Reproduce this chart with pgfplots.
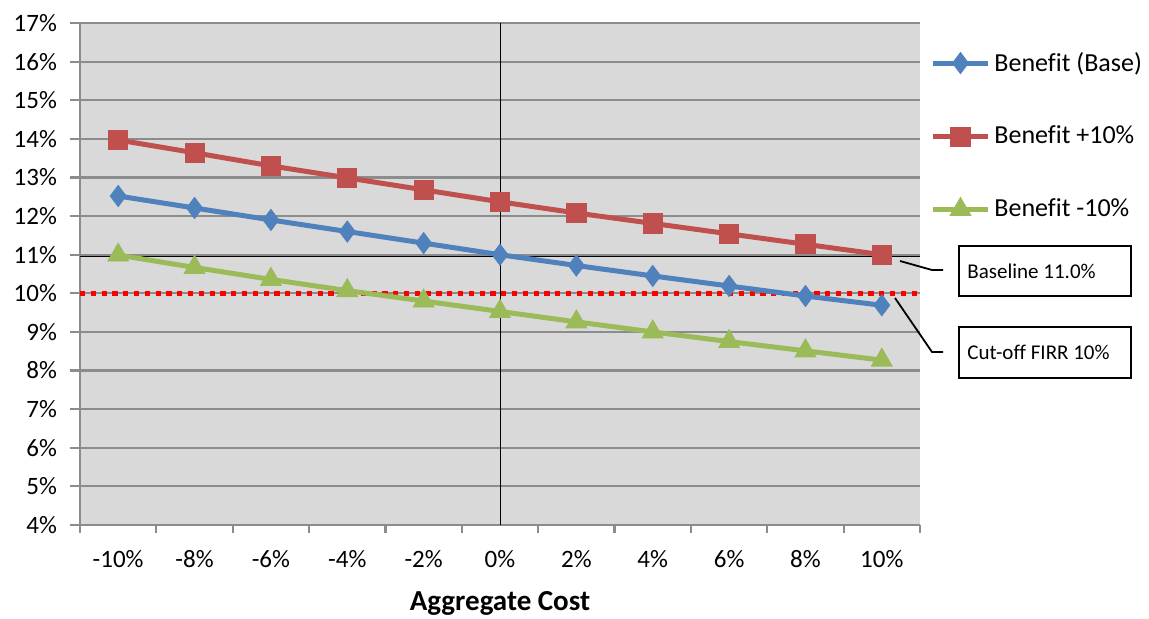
\documentclass[border=0pt]{standalone}
\usepackage{pgfplots}
\pgfplotsset{compat=1.18}
\usepackage{fontspec}
\setmainfont[Ligatures={NoCommon}]{Carlito}
\definecolor{sbBlue}{HTML}{4F81BD}
\definecolor{sbRed}{HTML}{C0504D}
\definecolor{sbGreen}{HTML}{9BBB59}
\definecolor{plotbg}{HTML}{D9D9D9}
\definecolor{gridgray}{HTML}{8C8C8C}

% FIRR sensitivity: rows are cost changes -10% ... +10% (index 0..10)
\pgfplotstableread{
idx base plus minus
0  12.52 13.97 10.99
1  12.21 13.64 10.67
2  11.90 13.30 10.36
3  11.60 12.99 10.07
4  11.30 12.68  9.80
5  11.00 12.37  9.53
6  10.72 12.08  9.26
7  10.45 11.81  9.00
8  10.19 11.54  8.75
9   9.93 11.27  8.51
10  9.69 11.00  8.27
}\firr

\begin{document}
\begin{tikzpicture}
\path[use as bounding box] (-40pt,-46.5pt) rectangle (534.5pt,262.5pt);
\begin{axis}[
  at={(0pt,0pt)}, anchor=south west,
  scale only axis, width=420pt, height=251pt,
  xmin=-0.5, xmax=10.5, ymin=4, ymax=17,
  axis x line*=bottom, axis y line*=left,
  axis line style={gridgray, line width=1.1pt},
  axis background/.style={fill=plotbg},
  ytick={4,...,17},
  yticklabel={\pgfmathprintnumber{\tick}\%},
  xtick={0,...,10},
  xticklabels={-10\%,-8\%,-6\%,-4\%,-2\%,0\%,2\%,4\%,6\%,8\%,10\%},
  minor xtick={-0.5,0.5,...,10.5},
  tick align=outside,
  major tick length=5pt, minor tick length=4pt,
  major x tick style={draw=none},
  minor x tick style={gridgray, line width=1.1pt},
  major y tick style={gridgray, line width=1.1pt},
  ymajorgrids,
  major grid style={gridgray, line width=1.1pt},
  /pgf/number format/assume math mode=true,
  ticklabel style={font=\fontsize{12.5}{14}\selectfont},
  xticklabel style={yshift=-4pt},
  yticklabel style={xshift=-3pt},
  xlabel={\textbf{Aggregate Cost}},
  xlabel style={font=\fontsize{14.5}{17}\selectfont, at={(rel axis cs:0.5,0)}, anchor=center, yshift=-39pt},
  legend cell align=left,
  legend style={at={(rel axis cs:1.012,0.775)}, anchor=west, draw=none, fill=none,
    font=\fontsize{13}{15}\selectfont, row sep=22pt, inner sep=0pt},
  legend image code/.code={\draw[mark repeat=2, mark phase=2] plot coordinates {(0pt,0pt) (13.75pt,0pt) (27.5pt,0pt)};},
  clip=false,
]
% vertical reference at zero cost change
\addplot[black, line width=0.5pt, forget plot] coordinates {(5,4) (5,17)};
% baseline FIRR
\addplot[black, line width=0.6pt, forget plot] coordinates {(-0.5,10.95) (10.5,10.95)};
% cut-off FIRR
\addplot[red, line width=2.3pt, dash pattern=on 2.6pt off 2.8pt, forget plot] coordinates {(-0.5,10) (10.5,10)};

\addplot[sbBlue, line width=2.5pt, mark=diamond*, mark size=5.3pt, mark options={solid, fill=sbBlue, line width=0.4pt}] table[x=idx, y=base] {\firr};
\addlegendentry{Benefit (Base)}
\addplot[sbRed, line width=2.5pt, mark=square*, mark size=4.8pt, mark options={solid, fill=sbRed, line width=0.4pt}] table[x=idx, y=plus] {\firr};
\addlegendentry{Benefit +10\%}
\addplot[sbGreen, line width=2.5pt, mark=triangle*, mark size=6pt, mark options={solid, fill=sbGreen, line width=0.4pt}] table[x=idx, y=minus] {\firr};
\addlegendentry{Benefit -10\%}
\end{axis}

% callouts
\draw[black, line width=0.9pt] (410pt,132pt) -- (426pt,127.5pt) -- (431.5pt,127.5pt);
\draw[black, line width=0.9pt] (407.5pt,113.5pt) -- (426pt,86.5pt) -- (431.5pt,86.5pt);
\draw[black, line width=0.9pt, fill=white] (439.5pt,114.5pt) rectangle (525.5pt,139.5pt);
\draw[black, line width=0.9pt, fill=white] (439.5pt,73.5pt) rectangle (525.5pt,99pt);
\node[anchor=west, inner sep=0pt, font=\fontsize{10.5}{12}\selectfont] at (443.5pt,127pt) {Baseline 11.0\%};
\node[anchor=west, inner sep=0pt, font=\fontsize{10.5}{12}\selectfont] at (443.5pt,86.25pt) {Cut-off FIRR 10\%};
\end{tikzpicture}
\end{document}
